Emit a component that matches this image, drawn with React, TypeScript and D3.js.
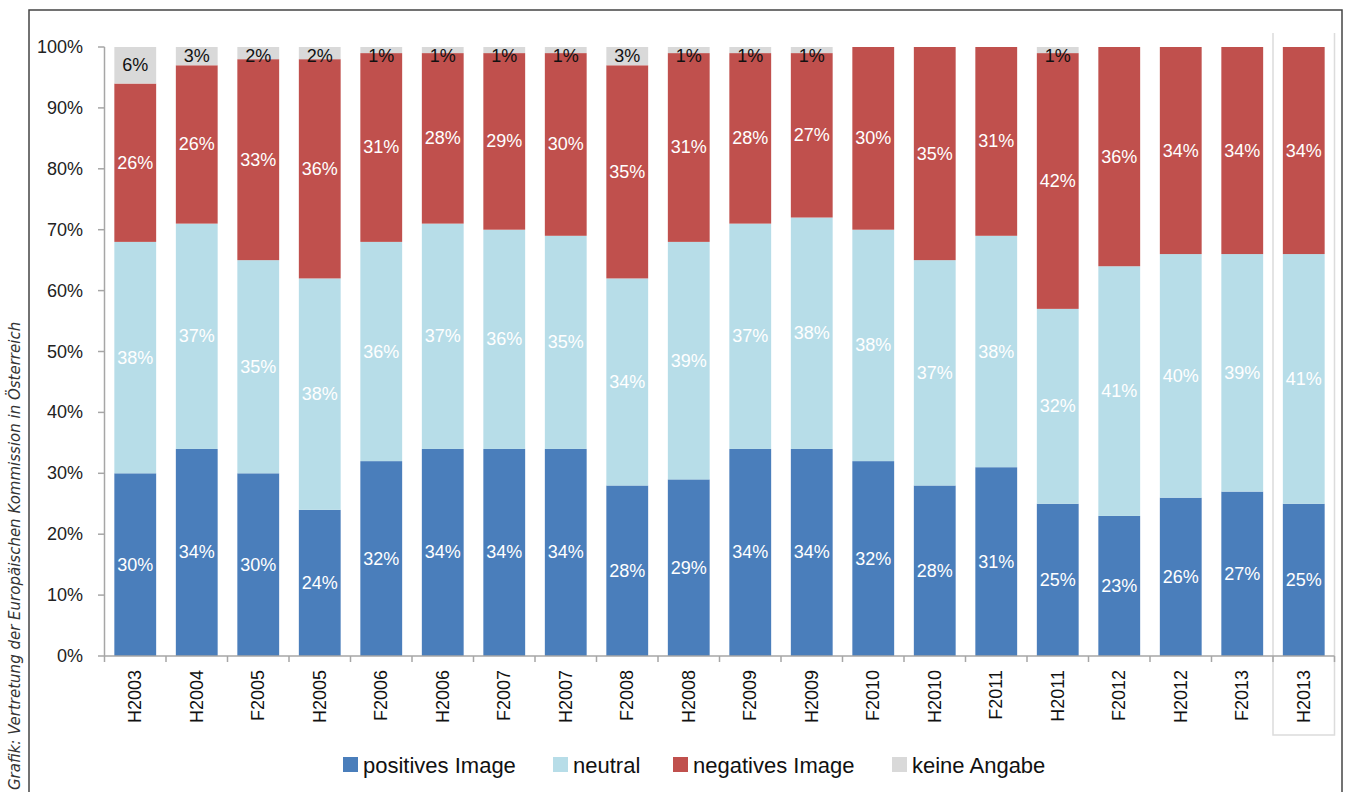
import React from "react";
import * as d3 from "d3";

const categories = [
  "H2003", "H2004", "F2005", "H2005", "F2006", "H2006", "F2007", "H2007", "F2008", "H2008",
  "F2009", "H2009", "F2010", "H2010", "F2011", "H2011", "F2012", "H2012", "F2013", "H2013",
];
const positives = [30, 34, 30, 24, 32, 34, 34, 34, 28, 29, 34, 34, 32, 28, 31, 25, 23, 26, 27, 25];
const neutral = [38, 37, 35, 38, 36, 37, 36, 35, 34, 39, 37, 38, 38, 37, 38, 32, 41, 40, 39, 41];
const negatives = [26, 26, 33, 36, 31, 28, 29, 30, 35, 31, 28, 27, 30, 35, 31, 42, 36, 34, 34, 34];
const keineAngabe = [6, 3, 2, 2, 1, 1, 1, 1, 3, 1, 1, 1, 0, 0, 0, 1, 0, 0, 0, 0];
const yTicks = [0, 10, 20, 30, 40, 50, 60, 70, 80, 90, 100];

const seriesNames = ["positives Image", "neutral", "negatives Image", "keine Angabe"];
const seriesValues = [positives, neutral, negatives, keineAngabe];
const colors = ["#4a7ebb", "#b7dde8", "#c0504d", "#d9d9d9"];
const labelColors = ["#ffffff", "#ffffff", "#ffffff", "#111111"];

const W = 1349;
const H = 792;
const font = "'Liberation Sans', Arial, sans-serif";

export default function App() {
  const x = d3
    .scaleBand<string>()
    .domain(categories)
    .range([104.5, 1334.5])
    .paddingInner(0.32)
    .paddingOuter(0.16);
  const y = d3.scaleLinear().domain([0, 100]).range([656, 47]);
  const step = x.step();
  const offset = (step * 0.32) / 2;

  const rows = categories.map((c, i) => {
    const r: any = { cat: c };
    seriesNames.forEach((s, j) => (r[s] = seriesValues[j][i]));
    return r;
  });
  const stacked = d3.stack<any>().keys(seriesNames)(rows);

  const legendX = [343, 553, 673, 892];

  const lastX = x("H2013")! - offset;

  return (
    <div style={{ position: "absolute", left: 0, top: 0 }}>
      <svg width={W} height={H} style={{ display: "block", background: "#fff" }}>
        {/* frame */}
        <rect x={29} y={10} width={1313} height={800} fill="none" stroke="#444" strokeWidth={1.5} />

        {/* highlight box around last category */}
        <path
          d={`M${lastX},33 V735 H${lastX + step} V33`}
          fill="none"
          stroke="#dcdcdc"
          strokeWidth={1.5}
        />

        {/* bars */}
        {stacked.map((layer, j) => (
          <g key={layer.key}>
            {layer.map((d, i) => {
              const v = d[1] - d[0];
              if (v <= 0) return null;
              return (
                <rect
                  key={i}
                  x={x(categories[i])}
                  y={y(d[1])}
                  width={x.bandwidth()}
                  height={y(d[0]) - y(d[1])}
                  fill={colors[j]}
                />
              );
            })}
          </g>
        ))}

        {/* value labels */}
        {stacked.map((layer, j) => (
          <g key={"l" + layer.key}>
            {layer.map((d, i) => {
              const v = d[1] - d[0];
              if (v <= 0) return null;
              return (
                <text
                  key={i}
                  x={x(categories[i])! + x.bandwidth() / 2}
                  y={Math.max(y((d[0] + d[1]) / 2), 56)}
                  textAnchor="middle"
                  dominantBaseline="central"
                  fontFamily={font}
                  fontSize={18}
                  fill={labelColors[j]}
                >
                  {v}%
                </text>
              );
            })}
          </g>
        ))}

        {/* y axis */}
        <line x1={104.5} x2={104.5} y1={y(100)} y2={y(0)} stroke="#a6a6a6" strokeWidth={1.5} />
        {yTicks.map((t) => (
          <g key={t}>
            <line x1={98} x2={104.5} y1={y(t)} y2={y(t)} stroke="#a6a6a6" strokeWidth={1.5} />
            <text
              x={83}
              y={y(t)}
              textAnchor="end"
              dominantBaseline="central"
              fontFamily={font}
              fontSize={18}
              fill="#222"
            >
              {t}%
            </text>
          </g>
        ))}

        {/* x axis */}
        <line x1={104.5} x2={1334.5} y1={y(0)} y2={y(0)} stroke="#a6a6a6" strokeWidth={1.5} />
        {categories.map((c) => (
          <line
            key={"t" + c}
            x1={x(c)! - offset}
            x2={x(c)! - offset}
            y1={y(0)}
            y2={y(0) + 6}
            stroke="#a6a6a6"
            strokeWidth={1.5}
          />
        ))}
        <line x1={1334.5} x2={1334.5} y1={y(0)} y2={y(0) + 6} stroke="#a6a6a6" strokeWidth={1.5} />
        {categories.map((c) => (
          <text
            key={"x" + c}
            transform={`translate(${x(c)! + x.bandwidth() / 2},670) rotate(-90)`}
            textAnchor="end"
            dominantBaseline="central"
            fontFamily={font}
            fontSize={18}
            fill="#111"
          >
            {c}
          </text>
        ))}

        {/* legend */}
        {seriesNames.map((s, j) => (
          <g key={"lg" + s} transform={`translate(${legendX[j]},757)`}>
            <rect width={15} height={15} fill={colors[j]} />
            <text
              x={20}
              y={8}
              dominantBaseline="central"
              fontFamily={font}
              fontSize={22}
              fill="#111"
            >
              {s}
            </text>
          </g>
        ))}

        {/* source */}
        <text
          transform="translate(20,790) rotate(-90)"
          fontFamily="'DejaVu Sans', sans-serif"
          fontStyle="italic"
          fontSize={15}
          fill="#333"
        >
          Grafik: Vertretung der Europäischen Kommission in Österreich
        </text>
      </svg>
    </div>
  );
}
